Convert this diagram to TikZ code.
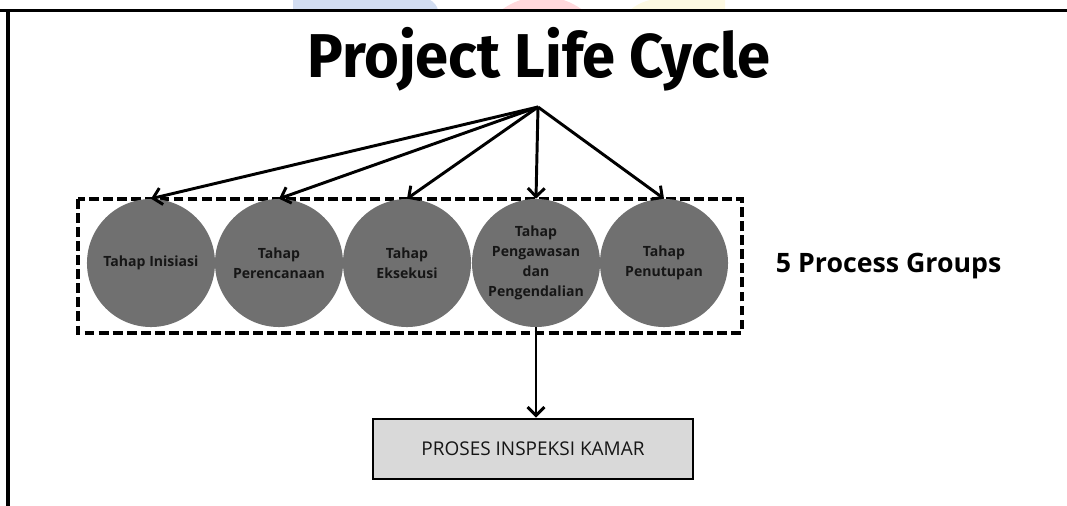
\documentclass[tikz,border=0pt]{standalone}
\usepackage{fontspec}
\setmainfont{Open Sans}
\newfontfamily\titlefont{Fira Sans}
\usetikzlibrary{arrows.meta, positioning}
\definecolor{phasegray}{RGB}{112, 112, 112}
\definecolor{boxgray}{RGB}{217, 217, 217}
\definecolor{inkdark}{RGB}{22, 22, 22}
\definecolor{logoblue}{RGB}{210, 221, 241}
\definecolor{logored}{RGB}{255, 216, 220}
\definecolor{logoyellow}{RGB}{253, 249, 226}

\begin{document}
\begin{tikzpicture}[x=0.025cm, y=-0.025cm,
  phase/.style={circle, fill=phasegray, minimum size=3.2cm, inner sep=0pt, align=center,
    text=inkdark, font=\bfseries\fontsize{10}{14.2}\selectfont},
  link/.style={line width=2.1pt, -{Straight Barb[length=6pt, width=12pt]}}]
  \useasboundingbox (0,0) rectangle (1067,506);
  % faint logo behind the top edge
  \begin{scope}
    \clip (0,0) rectangle (1067,9.5);
    \fill[logoblue] (293,10) -- (293,-5) -- (405,-5) .. controls (428,-5) and (436,2) .. (438,10) -- cycle;
    \fill[logored] (542,64) circle (67.5);
    \fill[logoyellow] (630,10) .. controls (640,2) and (650,-2) .. (670,-2) -- (725,-2) -- (725,10) -- cycle;
  \end{scope}
  % frame
  \draw[line width=2.2pt] (0,10.5) -- (1067,10.5);
  \draw[line width=2.2pt] (8,10.5) -- (8,506);
  % title
  \node[anchor=base, font=\titlefont\bfseries\fontsize{44}{44}\selectfont] (title) at (539,77)
    {\scalebox{0.965}[1]{Project Life Cycle}};
  \coordinate (hub) at (538,107);
  % process groups
  \draw[line width=2.3pt, dash pattern=on 7pt off 3pt] (78,199) rectangle (742,333);
  \node[phase] (p1) at (151,263) {Tahap Inisiasi};
  \node[phase] (p2) at (279,263) {Tahap\\Perencanaan};
  \node[phase] (p3) at (407,263) {Tahap\\Eksekusi};
  \node[phase] (p4) at (536,263) {Tahap\\Pengawasan\\dan\\Pengendalian};
  \node[phase] (p5) at (664,263) {Tahap\\Penutupan};
  \node[anchor=base west, font=\bfseries\fontsize{19}{19}\selectfont] (groups) at (771,272) {5 Process Groups};
  \foreach \n in {1,...,5}
    \draw[link] (hub) -- (p\n.north);
  % inspection box
  \node[draw, line width=1.9pt, fill=boxgray, minimum width=8cm, minimum height=1.5cm,
    text=inkdark, font=\fontsize{13.5}{13.5}\selectfont] (inspect) at (533,449) {PROSES INSPEKSI KAMAR};
  \draw[link] (p4.south) -- (p4.south |- inspect.north);
\end{tikzpicture}
\end{document}
